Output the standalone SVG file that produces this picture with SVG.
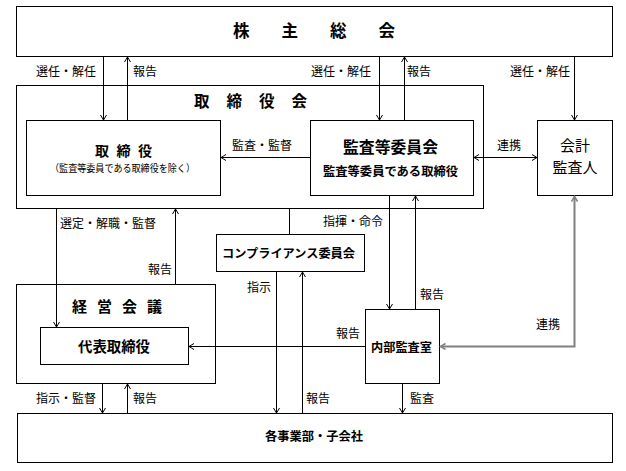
<svg xmlns="http://www.w3.org/2000/svg" width="626" height="471" viewBox="0 0 626 471">
<style>
.box{fill:#fff;stroke:#000;stroke-width:1}
.c{fill:none;stroke:#000;stroke-width:1}
.g{fill:none;stroke:#808080;stroke-width:2}
text{font-family:"Noto Sans CJK JP","Noto Sans CJK SC",sans-serif;fill:#000}
.l{font-size:12px}
.b{font-weight:bold}
</style>
<defs>
<marker id="a" markerWidth="8" markerHeight="8" refX="5" refY="3.5" orient="auto-start-reverse" markerUnits="userSpaceOnUse"><path d="M0,0.5 L5,3.5 L0,6.5" fill="none" stroke="#000" stroke-width="1"/></marker>
<marker id="ga" markerWidth="8" markerHeight="8" refX="5" refY="3.5" orient="auto-start-reverse" markerUnits="userSpaceOnUse"><path d="M0,0.5 L5,3.5 L0,6.5" fill="none" stroke="#808080" stroke-width="1.5"/></marker>
</defs>
<rect width="626" height="471" fill="#fff"/>

<g id="kabunushi">
<rect class="box" x="16.5" y="6.5" width="596" height="50"/>
<text x="233" y="37" font-size="16.5" class="b" textLength="162" lengthAdjust="spacing">株　主　総　会</text>
</g>

<g id="torishimariyakukai">
<rect class="box" x="16.5" y="85.5" width="467" height="123"/>
<text x="194" y="107" font-size="15.5" class="b" textLength="113" lengthAdjust="spacing">取 締 役 会</text>
</g>

<g id="torishimariyaku">
<rect class="box" x="26.5" y="120.5" width="194" height="75"/>
<text x="95" y="156" font-size="14" class="b" textLength="57" lengthAdjust="spacing">取 締 役</text>
<text x="50" y="172" font-size="10" textLength="145" lengthAdjust="spacingAndGlyphs">（監査等委員である取締役を除く）</text>
</g>

<g id="kansa-iinkai">
<rect class="box" x="310.5" y="120.5" width="163" height="75"/>
<text x="343" y="153" font-size="16" class="b" textLength="95" lengthAdjust="spacingAndGlyphs">監査等委員会</text>
<text x="323" y="176" font-size="12.5" class="b" textLength="135" lengthAdjust="spacingAndGlyphs">監査等委員である取締役</text>
</g>

<g id="kaikei">
<rect class="box" x="537.5" y="120.5" width="75" height="75"/>
<text x="575" y="151" font-size="15" text-anchor="middle">会計</text>
<text x="575" y="173" font-size="15" text-anchor="middle">監査人</text>
</g>

<g id="compliance">
<rect class="box" x="216.5" y="234.5" width="148" height="37"/>
<text x="222" y="258" font-size="12" class="b" textLength="133" lengthAdjust="spacingAndGlyphs">コンプライアンス委員会</text>
</g>

<g id="keiei-kaigi">
<rect class="box" x="16.5" y="284.5" width="199" height="99"/>
<text x="72" y="312" font-size="15" class="b" textLength="90" lengthAdjust="spacing">経 営 会 議</text>
</g>

<g id="daihyo">
<rect class="box" x="40.5" y="327.5" width="148" height="37"/>
<text x="78" y="352" font-size="14.5" class="b" textLength="72" lengthAdjust="spacingAndGlyphs">代表取締役</text>
</g>

<g id="naibu-kansa">
<rect class="box" x="365.5" y="309.5" width="74" height="74"/>
<text x="371" y="352" font-size="12.2" class="b" textLength="61" lengthAdjust="spacingAndGlyphs">内部監査室</text>
</g>

<g id="jigyobu">
<rect class="box" x="17.5" y="413.5" width="595" height="49"/>
<text x="265" y="441" font-size="12.3" class="b" textLength="98" lengthAdjust="spacingAndGlyphs">各事業部・子会社</text>
</g>

<g id="connectors">
<path class="c" d="M103.5,56.5 V120" marker-end="url(#a)"/>
<path class="c" d="M127.5,120.5 V57" marker-end="url(#a)"/>
<path class="c" d="M379.5,56.5 V120" marker-end="url(#a)"/>
<path class="c" d="M404.5,120.5 V57" marker-end="url(#a)"/>
<path class="c" d="M574.5,56.5 V120" marker-end="url(#a)"/>
<path class="c" d="M310.5,157.5 H221" marker-end="url(#a)"/>
<path class="c" d="M474,157.5 H537" marker-start="url(#a)" marker-end="url(#a)"/>
<path class="g" d="M574.5,196.5 V346.5 H440.5" marker-start="url(#ga)" marker-end="url(#ga)"/>
<path class="c" d="M56.5,208.5 V327" marker-end="url(#a)"/>
<path class="c" d="M175.5,284.5 V209" marker-end="url(#a)"/>
<path class="c" d="M289.5,208.5 V234.5"/>
<path class="c" d="M389.5,195.5 V309" marker-end="url(#a)"/>
<path class="c" d="M415.5,309.5 V196" marker-end="url(#a)"/>
<path class="c" d="M365.5,346.5 H189" marker-end="url(#a)"/>
<path class="c" d="M276.5,271.5 V413" marker-end="url(#a)"/>
<path class="c" d="M302.5,413.5 V272" marker-end="url(#a)"/>
<path class="c" d="M102.5,383.5 V413" marker-end="url(#a)"/>
<path class="c" d="M127.5,413.5 V384" marker-end="url(#a)"/>
<path class="c" d="M402.5,383.5 V413" marker-end="url(#a)"/>
</g>

<g id="labels">
<text class="l" x="36" y="76">選任・解任</text>
<text class="l" x="133" y="76">報告</text>
<text class="l" x="311" y="76">選任・解任</text>
<text class="l" x="407" y="76">報告</text>
<text class="l" x="510" y="76">選任・解任</text>
<text class="l" x="232" y="150">監査・監督</text>
<text class="l" x="497" y="150">連携</text>
<text class="l" x="60" y="228">選定・解職・監督</text>
<text class="l" x="323" y="226">指揮・命令</text>
<text class="l" x="148" y="274">報告</text>
<text class="l" x="247" y="292">指示</text>
<text class="l" x="420" y="299">報告</text>
<text class="l" x="536" y="329">連携</text>
<text class="l" x="336" y="338">報告</text>
<text class="l" x="36" y="403">指示・監督</text>
<text class="l" x="133" y="403">報告</text>
<text class="l" x="306" y="403">報告</text>
<text class="l" x="410" y="403">監査</text>
</g>
</svg>
